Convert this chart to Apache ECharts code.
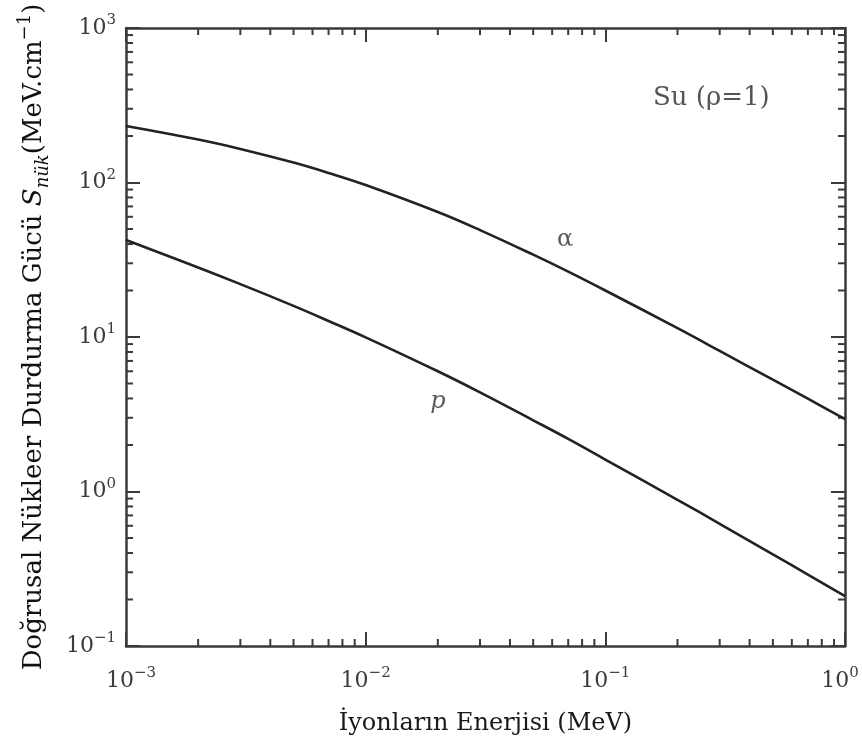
<!DOCTYPE html>
<html>
<head>
<meta charset="utf-8">
<script src="https://cdn.jsdelivr.net/npm/echarts@6/dist/echarts.min.js"></script>
<style>
  html, body { margin: 0; padding: 0; background: #fff; }
  #main { width: 862px; height: 747px; }
</style>
</head>
<body>
<div id="main"></div>
<script>
// enerji (MeV) ve durdurma gücü değerleri
const energy = [0.001, 0.002, 0.003, 0.005, 0.007, 0.01, 0.02, 0.03, 0.05, 0.07, 0.1, 0.2, 0.3, 0.5, 0.7, 1];
const alphaStop = [232, 189.6, 164.8, 134.5, 115.3, 96.3, 64.4, 49.2, 34.1, 26.5, 20.0, 11.4, 8.13, 5.29, 3.99, 2.94];
const protonStop = [42.5, 28.2, 22.0, 15.9, 12.7, 9.95, 6.00, 4.38, 2.89, 2.19, 1.61, 0.884, 0.618, 0.392, 0.290, 0.210];

// eğri etiketleri (veri koordinatında)
const curveLabels = [
  { text: 'α', pos: [0.068, 42.5], italic: false },
  { text: 'p', pos: [0.02, 3.8], italic: true }
];

const xRange = [0.001, 1];
const yRange = [0.1, 1000];

// ara (minor) çentikler: her on katın 2..9 katları
const minorX = [];
for (let k = -3; k < 0; k++) for (let m = 2; m <= 9; m++) minorX.push([m * Math.pow(10, k), 1]);
const minorY = [];
for (let k = -1; k < 3; k++) for (let m = 2; m <= 9; m++) minorY.push([0.01, m * Math.pow(10, k)]);

const serif = 'DejaVu Serif';
const axisColor = '#3a3a3a';

const expText = function (v) {
  const e = Math.round(Math.log10(v));
  return e < 0 ? '−' + (-e) : String(e);
};
const yLabel = v => '{b|10}{s|' + expText(v) + '}';
// x ekseninde uç etiketler biraz içeri kayık
const xLabel = function (v) {
  if (v <= xRange[0] * 1.0001) return '{pad|}{b|10}{s|' + expText(v) + '}';
  if (v >= xRange[1] * 0.9999) return '{b|10}{s|' + expText(v) + '}{pad|}';
  return yLabel(v);
};
const labelRich = {
  b: { fontFamily: serif, fontSize: 22, color: '#3c3c3c', lineHeight: 30 },
  s: { fontFamily: serif, fontSize: 15, color: '#3c3c3c', lineHeight: 14, verticalAlign: 'top' }
};
const xRich = Object.assign({}, labelRich, { pad: { width: 10 } });

const chart = echarts.init(document.getElementById('main'));

const minorTick = function (dir) {
  return function (params, api) {
    const cs = params.coordSys;
    const st = { stroke: axisColor, lineWidth: 2 };
    if (dir === 'x') {
      const px = api.coord([api.value(0), 1])[0];
      return { type: 'group', children: [
        { type: 'line', shape: { x1: px, y1: cs.y + cs.height, x2: px, y2: cs.y + cs.height - 7 }, style: st },
        { type: 'line', shape: { x1: px, y1: cs.y, x2: px, y2: cs.y + 7 }, style: st }
      ] };
    }
    const py = api.coord([0.01, api.value(1)])[1];
    return { type: 'group', children: [
      { type: 'line', shape: { x1: cs.x, y1: py, x2: cs.x + 7, y2: py }, style: st },
      { type: 'line', shape: { x1: cs.x + cs.width, y1: py, x2: cs.x + cs.width - 7, y2: py }, style: st }
    ] };
  };
};

const axisBase = {
  type: 'log',
  logBase: 10,
  axisLine: { show: true, lineStyle: { color: axisColor, width: 2.5 } },
  axisTick: { show: true, inside: true, length: 14, lineStyle: { color: axisColor, width: 2 } },
  splitLine: { show: false },
  minorTick: { show: false }
};

const option = {
  backgroundColor: '#fff',
  animation: false,
  grid: { left: 126, right: 17, top: 28, bottom: 101, outerBoundsMode: 'none', containLabel: false },
  xAxis: [
    Object.assign({}, axisBase, {
      position: 'bottom',
      min: xRange[0], max: xRange[1],
      axisLabel: { formatter: xLabel, rich: xRich, margin: 20 },
      name: 'İyonların Enerjisi (MeV)',
      nameLocation: 'middle',
      nameGap: 66,
      nameTextStyle: { fontFamily: serif, fontSize: 24, color: '#1a1a1a' }
    }),
    Object.assign({}, axisBase, {
      position: 'top',
      min: xRange[0], max: xRange[1],
      axisLabel: { show: false }
    })
  ],
  yAxis: [
    Object.assign({}, axisBase, {
      position: 'left',
      min: yRange[0], max: yRange[1],
      axisLabel: { formatter: yLabel, rich: labelRich, margin: 10 },
      name: 'Doğrusal Nükleer Durdurma Gücü {i|S}{sub|nük}(MeV.cm{sup|−1})',
      nameLocation: 'middle',
      nameGap: 74,
      nameTextStyle: {
        fontFamily: serif, fontSize: 26, color: '#111', lineHeight: 36,
        rich: {
          i: { fontFamily: serif, fontSize: 26, fontStyle: 'italic', color: '#111', lineHeight: 36 },
          sub: { fontFamily: serif, fontSize: 18, fontStyle: 'italic', color: '#111', lineHeight: 14, verticalAlign: 'bottom' },
          sup: { fontFamily: serif, fontSize: 18, color: '#111', lineHeight: 16, verticalAlign: 'top' }
        }
      }
    }),
    Object.assign({}, axisBase, {
      position: 'right',
      min: yRange[0], max: yRange[1],
      axisLabel: { show: false }
    })
  ],
  graphic: [{
    type: 'text',
    left: 653, top: 85,
    style: { text: 'Su (ρ=1)', font: '26px "DejaVu Serif"', fill: '#555' }
  }],
  series: [
    {
      name: 'α', type: 'line', xAxisIndex: 0, yAxisIndex: 0,
      data: energy.map((e, i) => [e, alphaStop[i]]),
      showSymbol: false, smooth: 0.4,
      lineStyle: { color: '#222', width: 2.6 }
    },
    {
      name: 'p', type: 'line', xAxisIndex: 0, yAxisIndex: 0,
      data: energy.map((e, i) => [e, protonStop[i]]),
      showSymbol: false, smooth: 0.4,
      lineStyle: { color: '#222', width: 2.6 }
    },
    {
      type: 'scatter', xAxisIndex: 0, yAxisIndex: 0, silent: true,
      symbolSize: 0,
      data: curveLabels.map(d => ({ value: d.pos, name: d.text, label: { fontStyle: d.italic ? 'italic' : 'normal' } })),
      label: {
        show: true, position: 'inside',
        formatter: p => p.name,
        fontFamily: serif, fontSize: 24, color: '#333'
      }
    },
    {
      type: 'custom', xAxisIndex: 0, yAxisIndex: 0, silent: true,
      renderItem: minorTick('x'), data: minorX, clip: false
    },
    {
      type: 'custom', xAxisIndex: 0, yAxisIndex: 0, silent: true,
      renderItem: minorTick('y'), data: minorY, clip: false
    }
  ]
};

chart.setOption(option);
</script>
</body>
</html>
